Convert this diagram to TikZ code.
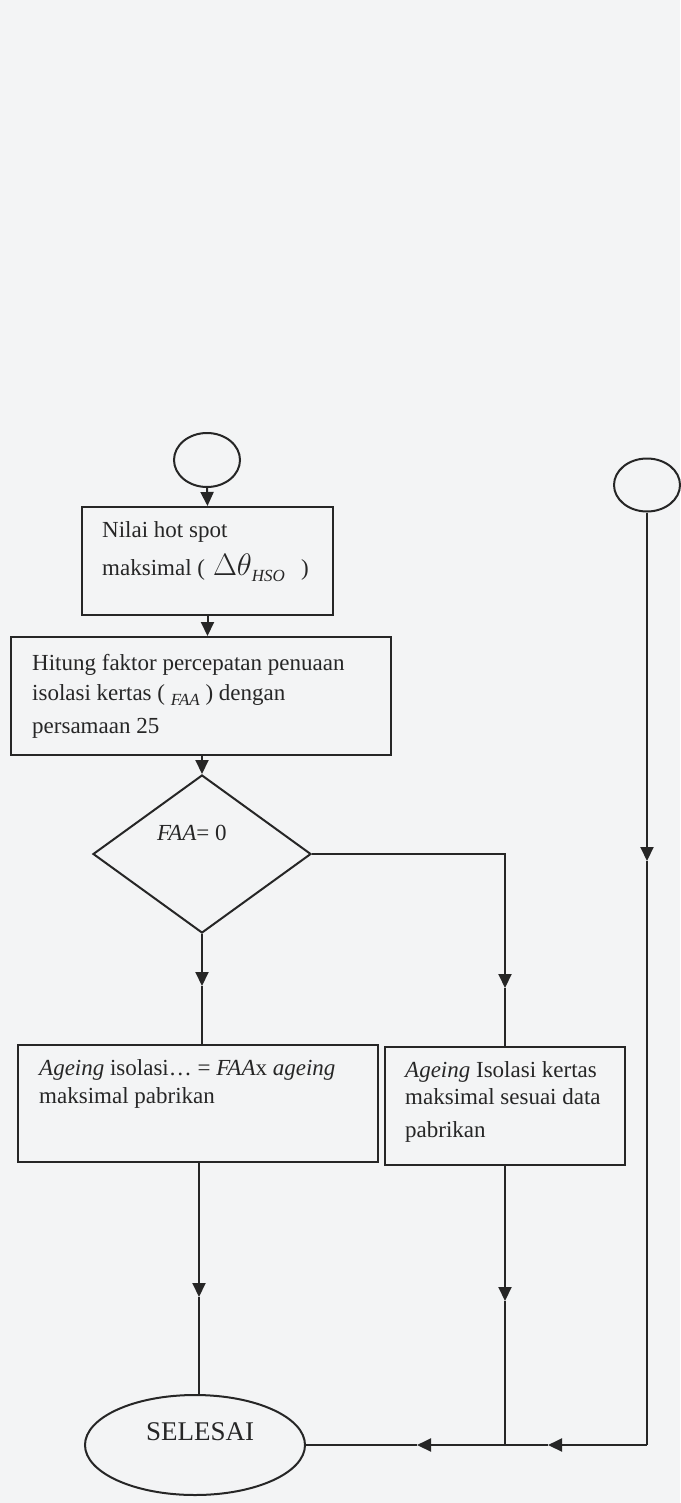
\RequirePackage{fix-cm}
\documentclass[tikz,border=0pt]{standalone}
\usepackage{fontspec}
\setmainfont{Liberation Serif}
\usetikzlibrary{shapes.geometric,arrows.meta}
\definecolor{ink}{HTML}{262626}
\definecolor{paper}{HTML}{F3F4F5}
\begin{document}
\begin{tikzpicture}[x=1pt,y=-1pt,
 line/.style={draw=ink,line width=2pt},
 boxnode/.style={draw=ink,line width=2pt,rectangle,inner sep=0pt},
 ovalnode/.style={draw=ink,line width=2pt,ellipse,inner sep=0pt},
 txt/.style={anchor=base west,inner sep=0pt,text=ink,font=\fontsize{23}{27}\selectfont},
 tip/.style={-{Triangle[width=13pt,length=14pt]}}
]
\fill[paper] (0,0) rectangle (680,1503);
\useasboundingbox (0,0) rectangle (680,1503);

% shapes
\node[ovalnode,minimum width=66pt,minimum height=54pt] (c1) at (207,460) {};
\node[ovalnode,minimum width=66pt,minimum height=53pt] (c2) at (647,485) {};
\node[boxnode,minimum width=251pt,minimum height=108pt] (b1) at (207.5,561) {};
\node[boxnode,minimum width=380pt,minimum height=118pt] (b2) at (201,696) {};
\node[draw=ink,line width=2pt,diamond,inner sep=0pt,minimum width=218pt,minimum height=158pt] (dia) at (202,854) {};
\node[boxnode,minimum width=360pt,minimum height=117pt] (b3) at (198,1103.5) {};
\node[boxnode,minimum width=240pt,minimum height=118pt] (b4) at (505,1106) {};
\node[ovalnode,minimum width=220pt,minimum height=100pt] (end) at (195,1445) {};

% texts
\node[txt] (t1a) at (102,537) {Nilai hot spot};
\node[txt] (t1b) at (102,575) {maksimal (\hspace{8pt}{\fontsize{31}{31}\selectfont$\Delta\theta$}\raisebox{-6pt}{\fontsize{17}{17}\selectfont\itshape HSO}\hspace{16pt})};
\node[txt] (t2a) at (32,670) {Hitung faktor percepatan penuaan};
\node[txt] (t2b) at (32,700) {isolasi kertas ( \raisebox{-5pt}{\fontsize{17}{17}\selectfont\itshape FAA} ) dengan};
\node[txt] (t2c) at (32,733) {persamaan 25};
\node[txt] (tq) at (157,840) {\itshape FAA\upshape= 0};
\node[txt] (t3a) at (39,1075) {\textit{Ageing} isolasi… = \textit{FAA}x \textit{ageing}};
\node[txt] (t3b) at (39,1103) {maksimal pabrikan};
\node[txt] (t4a) at (405,1077) {\textit{Ageing} Isolasi kertas};
\node[txt] (t4b) at (405,1104) {maksimal sesuai data};
\node[txt] (t4c) at (405,1137) {pabrikan};
\node[anchor=base,inner sep=0pt,text=ink,font=\fontsize{27}{30}\selectfont] (tend) at (200,1440) {SELESAI};

% connectors
\draw[line,tip] (c1.south) -- (b1.north);
\draw[line,tip] (b1.south) -- (b1.south |- b2.north);
\draw[line,tip] (dia.north |- b2.south) -- (dia.north);
\coordinate (m1) at (202,986);
\draw[line,tip] (dia.south) -- (m1);
\draw[line] (m1) -- (m1 |- b3.north);
\coordinate (k1) at (505,854);
\coordinate (m2) at (505,988);
\draw[line,tip] (dia.east) -- (k1) -- (m2);
\draw[line] (m2) -- (m2 |- b4.north);
\coordinate (m3) at (647,861);
\draw[line,tip] (c2.south) -- (m3);
\coordinate (k2) at (647,1445);
\coordinate (m4) at (548,1445);
\draw[line] (m3) -- (k2);
\draw[line,tip] (k2) -- (m4);
\coordinate (j) at (505,1445);
\draw[line] (m4) -- (j);
\coordinate (m5) at (417,1445);
\draw[line,tip] (j) -- (m5);
\draw[line] (m5) -- (end.east);
\coordinate (m6) at (199,1297);
\draw[line,tip] (m6 |- b3.south) -- (m6);
\draw[line] (m6) -- (m6 |- end.north);
\coordinate (m7) at (505,1301);
\draw[line,tip] (m7 |- b4.south) -- (m7);
\draw[line] (m7) -- (j);
\end{tikzpicture}
\end{document}
